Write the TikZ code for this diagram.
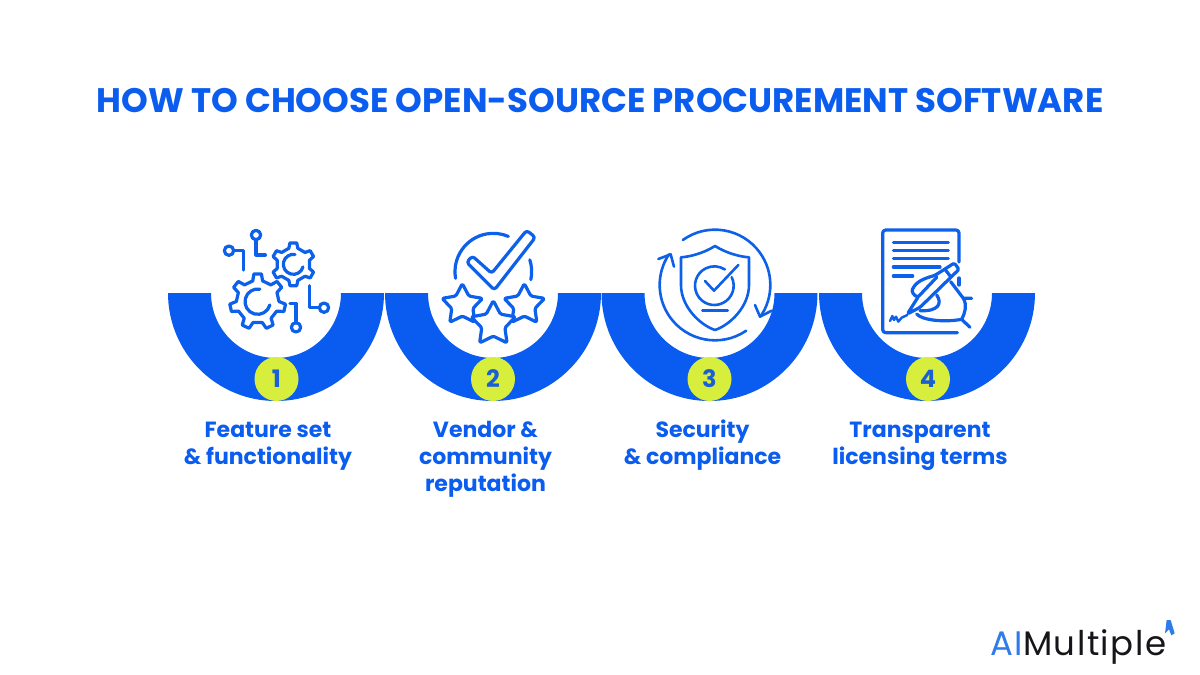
\documentclass[tikz,border=0pt]{standalone}
\usepackage{fontspec}
\setmainfont{Poppins}
\definecolor{ringblue}{HTML}{0A5CF0}
\definecolor{iconblue}{HTML}{0D60EA}
\definecolor{textblue}{HTML}{0A5DEE}
\definecolor{digitblue}{HTML}{1A5FD6}
\definecolor{limegreen}{HTML}{D8EE3C}
\definecolor{logoblue}{HTML}{2F7BEA}
\definecolor{logoblack}{HTML}{15151A}
\newcommand{\gearpath}[6]{% cx cy Rout Rin teeth rot
  \pgfmathsetmacro{\stepang}{360/#5}
  \pgfmathsetmacro{\lastidx}{#5-1}
  \draw[iconline,fill=white]
  \foreach \i in {0,...,\lastidx}{
    \pgfextra{\pgfmathsetmacro{\aa}{#6+\i*\stepang}
    \pgfmathsetmacro{\ab}{\aa-0.15*\stepang}\pgfmathsetmacro{\ac}{\aa+0.15*\stepang}
    \pgfmathsetmacro{\ad}{\aa-0.26*\stepang}\pgfmathsetmacro{\ae}{\aa+0.26*\stepang}}
    \ifnum\i=0 ({#1+#4*cos(\ad)},{#2-#4*sin(\ad)}) \else -- ({#1+#4*cos(\ad)},{#2-#4*sin(\ad)}) \fi
    -- ({#1+#3*cos(\ab)},{#2-#3*sin(\ab)})
    -- ({#1+#3*cos(\ac)},{#2-#3*sin(\ac)})
    -- ({#1+#4*cos(\ae)},{#2-#4*sin(\ae)})
  } -- cycle;
}
\newcommand{\starpath}[3]{% cx cy R
  \draw[iconline,fill=white,rounded corners=1.5pt]
   ({#1+#3*cos(90)},{#2-#3*sin(90)})
   -- ({#1+0.52*#3*cos(126)},{#2-0.52*#3*sin(126)})
   -- ({#1+#3*cos(162)},{#2-#3*sin(162)})
   -- ({#1+0.52*#3*cos(198)},{#2-0.52*#3*sin(198)})
   -- ({#1+#3*cos(234)},{#2-#3*sin(234)})
   -- ({#1+0.52*#3*cos(270)},{#2-0.52*#3*sin(270)})
   -- ({#1+#3*cos(306)},{#2-#3*sin(306)})
   -- ({#1+0.52*#3*cos(342)},{#2-0.52*#3*sin(342)})
   -- ({#1+#3*cos(18)},{#2-#3*sin(18)})
   -- ({#1+0.52*#3*cos(54)},{#2-0.52*#3*sin(54)})
   -- cycle;
}
\tikzset{
  x=1pt,y=-1pt,
  iconline/.style={draw=iconblue,line width=3.2pt,line cap=round,line join=round},
  thinicon/.style={draw=iconblue,line width=2.6pt,line cap=round,line join=round},
  ring/.style={fill=ringblue,draw=none},
  badge/.style={circle,fill=limegreen,minimum size=44pt,inner sep=0pt,text=digitblue,font=\fontsize{24}{24}\selectfont\bfseries},
  label/.style={align=center,anchor=north,inner sep=0pt,text=textblue,font=\fontsize{22}{27}\selectfont\bfseries},
  zoomed/.style={x=0.33333pt,y=-0.33333pt},
}
\newcommand{\fl}{\rule{0pt}{18pt}}
\begin{document}
\begin{tikzpicture}
\useasboundingbox (0,0) rectangle (1200,675);
\fill[white] (0,0) rectangle (1200,675);
\node[text=textblue,font=\fontsize{34}{34}\selectfont\bfseries] (title) at (600,101) {HOW TO CHOOSE OPEN-SOURCE PROCUREMENT SOFTWARE};
% half rings
\foreach \cx in {276,493,709.5,927}{
  \fill[ring] (\cx-108,293) arc[start angle=180,end angle=0,radius=108] -- (\cx+65,293)
     arc[start angle=0,end angle=180,radius=65] -- cycle;
}
\node[badge] (n1) at (276.5,379) {1};
\node[badge] (n2) at (493,379) {2};
\node[badge] (n3) at (709.5,379) {3};
\node[badge] (n4) at (928,379) {4};
\node[label] (l1) at (268,419) {\fl Feature set\\\& functionality};
\node[label] (l2) at (485.5,419) {\fl Vendor \&\\community\\reputation};
\node[label] (l3) at (702.5,419) {\fl Security\\\& compliance};
\node[label] (l4) at (920,419) {\fl Transparent\\licensing terms};
% icon 1
\begin{scope}[xshift=160pt,yshift=-220pt,zoomed]
  \gearpath{293}{245}{84}{64}{7}{90}
  \gearpath{400}{133}{65}{50}{6}{90}
  \draw[iconline] (293,245) ++(15:38) arc[start angle=15,end angle=280,radius=38];
  \draw[iconline] (400,133) ++(15:30) arc[start angle=15,end angle=280,radius=30];
  \draw[iconline] (207,92) circle[radius=14];
  \draw[iconline] (221,92) -- (250,92) -- (250,150);
  \draw[iconline] (288,45) circle[radius=14];
  \draw[iconline] (288,59) -- (288,105) -- (316,105);
  \draw[iconline] (492,263) circle[radius=14];
  \draw[iconline] (478,263) -- (448,263) -- (448,197);
  \draw[iconline] (408,322) circle[radius=14];
  \draw[iconline] (408,308) -- (408,250) -- (390,250);
\end{scope}
% icon 2
\begin{scope}[xshift=385pt,yshift=-220pt,zoomed]
  \draw[iconline] (325,155) ++(170:115) arc[start angle=170,end angle=293,radius=115];
  \draw[iconline] (325,155) ++(-18:115) arc[start angle=-18,end angle=12,radius=115];
  \draw[iconline,rounded corners=3pt] (245,127) -- (262,108) -- (320,160) -- (425,31) -- (451,52) -- (328,210) -- cycle;
  \starpath{232}{255}{64}
  \starpath{418}{255}{64}
  \starpath{325}{312}{70}
\end{scope}
% icon 3
\begin{scope}[xshift=600pt,yshift=-220pt,zoomed]
  \draw[thinicon] (345,195) ++(234.5:166) arc[start angle=234.5,end angle=394.7,radius=166];
  \draw[thinicon] (345,195) ++(55.7:166) arc[start angle=55.7,end angle=213.7,radius=166];
  \draw[thinicon] (465,255) -- (480,290) -- (515,272);
  \draw[thinicon] (175,117) -- (212,103) -- (222,140);
  \draw[thinicon] (345,78) .. controls (310,100) and (270,110) .. (243,112) -- (243,195)
     .. controls (243,260) and (300,315) .. (345,330)
     .. controls (390,315) and (447,260) .. (447,195) -- (447,112)
     .. controls (420,110) and (380,100) .. (345,78) -- cycle;
  \draw[thinicon] (343,197) ++(-26:58) arc[start angle=-26,end angle=303,radius=58];
  \draw[thinicon] (315,183) -- (342,212) -- (415,135);
  \draw[thinicon] (307,272) -- (383,272);
\end{scope}
% icon 4
\begin{scope}[xshift=820pt,yshift=-220pt,zoomed]
  \draw[iconline,rounded corners=3pt] (417,126) -- (417,30) -- (188,30) -- (188,338) -- (412,338);
  \draw[iconline] (417,174) -- (417,195);
  \draw[iconline] (220,67) -- (385,67);
  \draw[iconline] (220,91) -- (385,91);
  \draw[iconline] (220,115) -- (385,115);
  \draw[iconline] (220,141) -- (360,141);
  \draw[iconline] (220,168) -- (278,168);
  % pen
  \draw[iconline,fill=white,rounded corners=1.5pt] (403,129) -- (417,148) -- (300,262) -- (262,282) -- (295,230)
     .. controls (283,228) and (273,215) .. (280,203)
     .. controls (295,180) and (325,172) .. (345,166) -- cycle;
  \draw[iconline] (375,148) -- (392,170);
  \draw[iconline] (293,232) -- (350,172);
  % hand
  \draw[iconline] (392,185) -- (430,235) -- (455,235);
  \draw[iconline] (430,235) .. controls (442,255) and (435,280) .. (425,298) -- (450,322);
  \draw[iconline] (290,282) .. controls (305,300) and (370,308) .. (425,298);
  \draw[iconline] (350,225) .. controls (368,250) and (355,275) .. (300,272);
  % signature
  \draw[iconline,line width=2.4pt] (210,303) -- (217,288) -- (222,300) -- (228,290) -- (235,305) -- (245,293) -- (262,285);
\end{scope}
% logo
\node[anchor=base west,inner sep=0pt,font=\fontsize{34}{34}\selectfont] (logo) at (990,655) {\addfontfeatures{LetterSpace=4.5}\textcolor{logoblue}{AI}\textcolor{logoblack}{Multiple}};
\begin{scope}[xshift=970pt,yshift=-610pt,zoomed]
  \fill[logoblue] (590,30) -- (602,30) -- (614,70) -- (604,76) -- (597,58) -- (585,70) -- cycle;
\end{scope}
\end{tikzpicture}
\end{document}
